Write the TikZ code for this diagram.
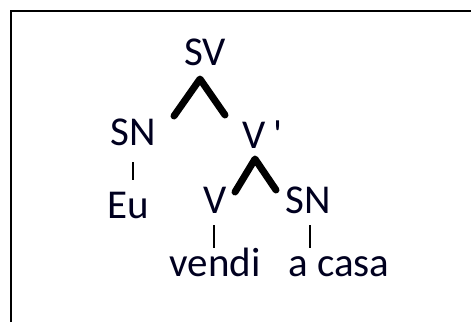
\documentclass[tikz,border=0pt]{standalone}
\usepackage{fontspec}
\setmainfont{Carlito}
\begin{document}
\begin{tikzpicture}[x=1pt,y=-1pt,
  lbl/.style={anchor=base,inner sep=0pt,font=\fontsize{41}{47}\selectfont,text=black!88!blue},
  thin/.style={line width=1.4pt,black},
  thick/.style={line width=7pt,black,line cap=round,line join=round}]
\useasboundingbox (0,0) rectangle (471,322);
% frame (left and top only)
\draw[line width=2.8pt] (11,322) -- (11,11) -- (471,11);
% labels
\node[lbl] (SV) at (205,65) {SV};
\node[lbl] (SNa) at (133,145) {SN};
\node[lbl] (Eu) at (128,218) {Eu};
\node[lbl,anchor=base west] (Vp) at (242,148) {V\kern8pt\textquotesingle};
\node[lbl] (V) at (215,213) {V};
\node[lbl] (SNb) at (308,213) {SN};
\node[lbl] (vendi) at (215,276) {vendi};
\node[lbl] (acasa) at (339,276) {a casa};
% connector points
\coordinate (svL) at (174,116);
\coordinate (svT) at (200,79);
\coordinate (svR) at (225,115);
\coordinate (vpL) at (235,192);
\coordinate (vpT) at (255,159);
\coordinate (vpR) at (276,190);
\coordinate (snaB) at (133,162);
\coordinate (euT) at (133,180);
\coordinate (vB) at (214,225);
\coordinate (vendiT) at (214,248);
\coordinate (snbB) at (310,225);
\coordinate (acasaT) at (310,248);
% thick branches
\draw[thick] (svL) -- (svT) -- (svR);
\draw[thick] (vpL) -- (vpT) -- (vpR);
% thin unary lines
\draw[thin] (snaB) -- (euT);
\draw[thin] (vB) -- (vendiT);
\draw[thin] (snbB) -- (acasaT);
\end{tikzpicture}
\end{document}
